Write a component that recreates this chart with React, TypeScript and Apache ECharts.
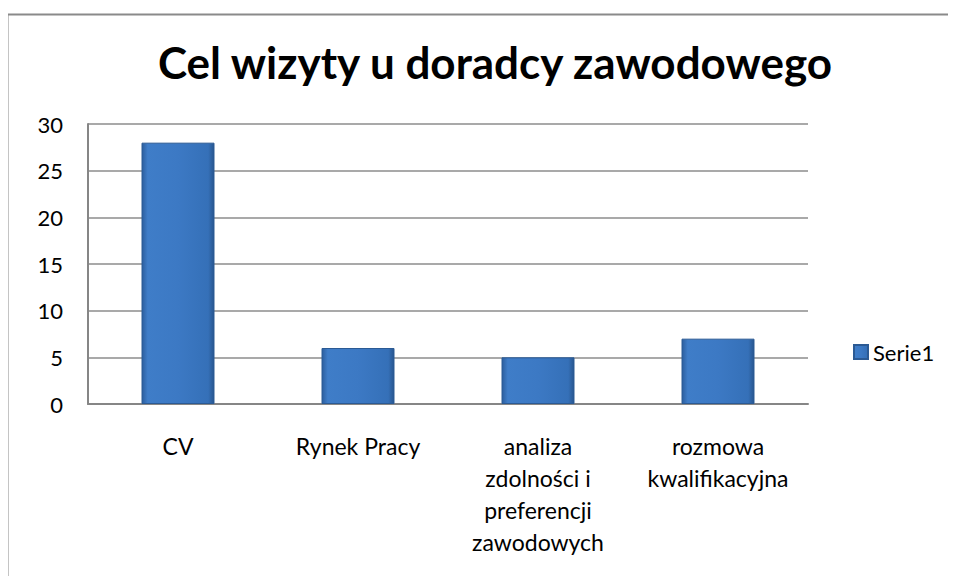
import React, { useEffect, useRef } from "react";
import * as echarts from "echarts";

const titleText = "Cel wizyty u doradcy zawodowego";
const categories = [
  "CV",
  "Rynek Pracy",
  "analiza\nzdolności i\npreferencji\nzawodowych",
  "rozmowa\nkwalifikacyjna",
];
const seriesName = "Serie1";
const values = [28, 6, 5, 7];
const yMin = 0;
const yMax = 30;
const yInterval = 5;

const FONT = "Lato, 'Liberation Sans', sans-serif";

export default function App() {
  const ref = useRef<HTMLDivElement>(null);
  useEffect(() => {
    if (!ref.current) return;
    const chart = echarts.init(ref.current, null, { renderer: "svg" });
    const barColor = new echarts.graphic.LinearGradient(0, 0, 1, 0, [
      { offset: 0, color: "#2c5e9e" },
      { offset: 0.08, color: "#3f7dc8" },
      { offset: 0.5, color: "#3c79c4" },
      { offset: 0.92, color: "#3570b8" },
      { offset: 1, color: "#28568f" },
    ]);
    chart.setOption({
      animation: false,
      backgroundColor: "#ffffff",
      textStyle: { fontFamily: FONT },
      graphic: [
        {
          type: "polyline",
          left: 5,
          top: 12,
          shape: { points: [[0, 600], [0, 0], [980, 0]] },
          style: { fill: "none", stroke: "#8a8a8a", lineWidth: 2 },
          silent: true,
        },
      ],
      title: {
        text: titleText,
        left: 490,
        textAlign: "center",
        top: 35,
        textStyle: {
          fontFamily: FONT,
          fontSize: 44,
          fontWeight: "bold",
          color: "#000000",
        },
      },
      legend: {
        data: [seriesName],
        left: 848,
        top: 336,
        itemWidth: 14,
        itemHeight: 14,
        icon: "rect",
        textStyle: { fontFamily: FONT, fontSize: 22, color: "#000000" },
      },
      grid: { left: 88, right: 148, top: 124, bottom: 180, containLabel: false },
      xAxis: {
        type: "category",
        data: categories,
        axisLine: { show: true, lineStyle: { color: "#868686", width: 2 } },
        axisTick: { show: false },
        axisLabel: {
          interval: 0,
          margin: 26,
          fontFamily: FONT,
          fontSize: 23,
          lineHeight: 32,
          color: "#000000",
        },
      },
      yAxis: {
        type: "value",
        min: yMin,
        max: yMax,
        interval: yInterval,
        axisLine: { show: true, lineStyle: { color: "#868686", width: 2 } },
        axisTick: { show: false },
        axisLabel: { margin: 25, fontFamily: FONT, fontSize: 22, color: "#000000" },
        splitLine: { show: true, lineStyle: { color: "#8c8c8c", width: 1.5 } },
      },
      series: [
        {
          name: seriesName,
          type: "bar",
          data: values,
          barWidth: 73,
          itemStyle: { color: barColor, borderColor: "#2b5a94", borderWidth: 1 },
        },
      ],
    });
    return () => chart.dispose();
  }, []);
  return <div ref={ref} style={{ width: 956, height: 584, margin: -8 }} />;
}
